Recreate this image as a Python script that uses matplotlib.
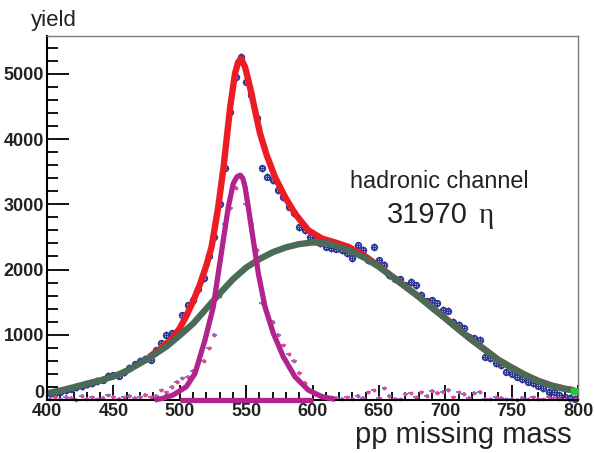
"""pp missing mass spectrum: data, total fit, background and eta signal."""

import matplotlib

matplotlib.use("Agg")
import matplotlib.pyplot as plt  # noqa: E402
import numpy as np  # noqa: E402
from matplotlib.ticker import FuncFormatter, MultipleLocator  # noqa: E402

# --- histogram: 4 MeV bins from 400 to 800 ---
bin_lo, bin_hi, bin_w = 400, 800, 4
yield_data = [
    100, 110, 130, 150, 170, 200, 215, 240, 260, 290,
    310, 370, 380, 375, 430, 490, 545, 600, 630, 620,
    760, 870, 1000, 1020, 1040, 1300, 1450, 1530, 1700, 1870,
    2200, 2500, 3010, 3550, 4420, 4950, 5260, 4880, 4670, 4320,
    3550, 3420, 3370, 3220, 3110, 2960, 2860, 2650, 2600, 2500,
    2450, 2400, 2350, 2330, 2320, 2300, 2250, 2170, 2370, 2300,
    2140, 2350, 2140, 2070, 1910, 1860, 1850, 1760, 1810, 1760,
    1610, 1510, 1530, 1480, 1380, 1370, 1200, 1150, 1100, 970,
    945, 920, 665, 640, 560, 535, 435, 400, 355, 320,
    280, 255, 220, 180, 130, 120, 80, 50, 30, 20,
]
# background-subtracted histogram
yield_sub = [
    20, 40, 10, 50, 30, 0, 60, 20, 40, 10,
    30, 70, 50, 20, 40, 60, 30, 50, 80, 40,
    60, 150, 120, 200, 280, 330, 360, 450, 560, 600,
    790, 1000, 1600, 2700, 2950, 3250, 3450, 3010, 2700, 2300,
    1480, 1300, 1200, 1000, 840, 700, 600, 420, 260, 150,
    90, 70, 50, 40, 30, 20, 40, 10, 60, 30,
    120, 150, 30, 180, 60, 20, 10, 90, 100, 40,
    120, 60, 140, 110, 130, 160, 40, 120, 90, 30,
    110, 130, 20, 10, 40, 30, 10, 20, 0, 30,
    10, 40, 20, 10, 50, 30, 20, 10, 0, 10,
]

# --- fitted curves ---
bg_mass = [401, 410, 420, 430, 440, 450, 460, 470, 480, 490, 500, 510, 520,
           530, 540, 550, 560, 570, 580, 590, 600, 610, 620, 630, 640, 650,
           660, 670, 680, 690, 700, 710, 720, 730, 740, 750, 760, 770, 780,
           790, 797]
bg_yield = [107, 145, 195, 250, 300, 360, 445, 560, 685, 820, 990, 1170, 1400,
            1630, 1850, 2030, 2160, 2265, 2340, 2390, 2415, 2405, 2350, 2272,
            2170, 2042, 1889, 1735, 1582, 1414, 1251, 1082, 919, 766, 613,
            495, 383, 291, 219, 170, 145]

tot_mass = [477, 485, 490, 495, 500, 505, 510, 515, 520, 524, 529, 533, 538,
            541.6, 544, 546.1, 549.2, 552.9, 556.7, 560.5, 565.5, 571.7, 579.3,
            586.8, 596.8, 607, 617, 627, 640, 650, 660, 670, 680, 690, 700,
            710, 720, 730, 740, 750, 760, 770, 780, 790, 797]
tot_yield = [660, 780, 868, 960, 1100, 1290, 1510, 1760, 2060, 2350, 2960,
             3573, 4492, 5003, 5180, 5233, 5104, 4798, 4441, 4084, 3752, 3420,
             3113, 2858, 2603, 2476, 2415, 2348, 2200, 2050, 1895, 1740, 1586,
             1418, 1255, 1086, 923, 770, 617, 499, 387, 295, 223, 174, 149]

sig_mass = [481, 487, 495, 505, 511.5, 519, 525.3, 529, 532.8, 536.6, 540.3,
            543, 545.4, 547.5, 549.2, 551.6, 555.4, 559.2, 564.2, 570.5, 578,
            586.8, 596.8, 607, 617]
sig_yield = [0, 25, 77, 204, 408, 919, 1429, 1940, 2450, 2960, 3318, 3420,
             3446, 3400, 3267, 2960, 2450, 1940, 1429, 1021, 663, 357, 153,
             51, 10]
sig_flat_mass = [500, 600]
sig_flat_yield = [0, 0]

RED = "#ec1c24"
GREEN = "#4a6b55"
MAGENTA = "#b2238e"
BLUE = "#2b3596"
LBLUE = "#3a86d4"
PINK = "#e4489a"
INK = "#222222"

plt.rcParams["font.family"] = ["Liberation Sans", "DejaVu Sans"]

fig = plt.figure(figsize=(5.94, 4.53), dpi=100)
ax = fig.add_axes([47 / 594, 1 - 400 / 453, 531 / 594, 364 / 453])

centers = np.arange(bin_lo + bin_w / 2, bin_hi, bin_w)

ax.errorbar(centers, yield_data, xerr=bin_w / 2, yerr=55, fmt="o", ms=4.0,
            mfc="none", mec=BLUE, mew=1.3, ecolor=BLUE, elinewidth=1.0,
            capsize=0, zorder=2, clip_on=False)
ax.errorbar(centers, yield_sub, xerr=bin_w / 2, yerr=25, fmt="o", ms=1.8,
            mfc=PINK, mec=PINK, ecolor=LBLUE, elinewidth=1.2,
            capsize=0, zorder=2, clip_on=False)

ax.plot(tot_mass, tot_yield, color=RED, lw=4.6, solid_capstyle="butt",
        zorder=3, clip_on=False)
ax.plot(bg_mass, bg_yield, color=GREEN, lw=4.6, solid_capstyle="butt",
        zorder=4, clip_on=False)
ax.plot(bg_mass[-1:], bg_yield[-1:], "s", color="#2bc43c", ms=4, zorder=5,
        clip_on=False)
ax.plot(sig_mass, sig_yield, color=MAGENTA, lw=3.8, solid_capstyle="butt",
        zorder=5, clip_on=False)
ax.plot(sig_flat_mass, sig_flat_yield, color=MAGENTA, lw=3.8,
        solid_capstyle="butt", zorder=5, clip_on=False)

ax.set_xlim(400, 800)
ax.set_ylim(0, 5580)

ax.xaxis.set_major_locator(MultipleLocator(50))
ax.xaxis.set_minor_locator(MultipleLocator(10))
ax.yaxis.set_major_locator(MultipleLocator(1000))
ax.yaxis.set_minor_locator(MultipleLocator(200))
# the "0" label sits a little above the axis in the original; drawn by hand
ax.yaxis.set_major_formatter(FuncFormatter(lambda v, _: "" if v == 0 else f"{v:.0f}"))
ax.tick_params(axis="both", which="both", direction="in", top=False,
               right=False, width=1.3, colors="black")
ax.tick_params(axis="y", which="major", length=16, pad=2)
ax.tick_params(axis="y", which="minor", length=8)
ax.tick_params(axis="x", which="major", length=11, pad=2)
ax.tick_params(axis="x", which="minor", length=5.5)
tick_font = dict(fontweight="bold", fontsize=13, color=INK)
for lab in ax.get_xticklabels() + ax.get_yticklabels():
    lab.set(**tick_font)
fig.text(44 / 594, 1 - 393 / 453, "0", ha="right", va="center", **tick_font)

for side in ("left", "bottom"):
    ax.spines[side].set_linewidth(1.5)
    ax.spines[side].set_color("black")
for side in ("top", "right"):
    ax.spines[side].set_linewidth(1.0)
    ax.spines[side].set_color("#7a7a7a")

fig.text(31 / 594, 1 - 26 / 453, "yield", fontsize=16, va="baseline",
         color=INK)
fig.text(572 / 594, 1 - 443 / 453, "pp missing mass", fontsize=21,
         ha="right", va="baseline", color=INK)
fig.text(350 / 594, 1 - 188 / 453, "hadronic channel", fontsize=16.8,
         va="baseline", color=INK)
fig.text(387 / 594, 1 - 223 / 453, "31970", fontsize=21, va="baseline",
         color=INK)
fig.text(479 / 594, 1 - 223 / 453, "η", fontsize=21, va="baseline",
         family=["Liberation Serif", "DejaVu Serif"], color=INK)

fig.savefig("out.png", dpi=100)
plt.close(fig)
